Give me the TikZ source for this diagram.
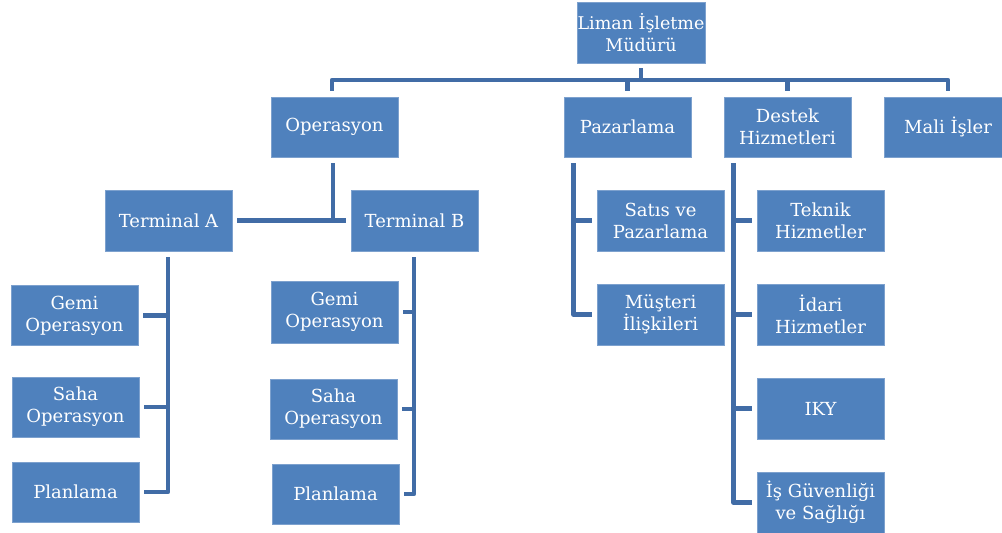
\documentclass[tikz,border=0pt]{standalone}
\usepackage{fontspec}
\setmainfont{DejaVu Serif}
\usetikzlibrary{calc}
\definecolor{boxfill}{HTML}{4F81BD}
\definecolor{boxline}{HTML}{7DA1CE}
\definecolor{connc}{HTML}{416CA6}
\tikzset{
  orgbox/.style={draw=boxline, line width=0.8pt, fill=boxfill, text=white,
    minimum width=127pt, minimum height=60pt, inner sep=0pt, align=center,
    font=\fontsize{18}{22}\selectfont},
  conn/.style={draw=connc, line width=4.5pt, line join=round}
}
\begin{document}
\begin{tikzpicture}[x=1pt,y=-1pt]
\useasboundingbox (0,0) rectangle (1002,533);
% boxes
\node[orgbox, minimum width=128pt, minimum height=61pt, font=\fontsize{17.5}{22}\selectfont] (liman) at (641,32.5) {Liman İşletme\\Müdürü};
\node[orgbox] (oper) at (334.5,127) {Operasyon};
\node[orgbox] (pazar) at (627.5,127) {Pazarlama};
\node[orgbox] (destek) at (787.5,127) {Destek\\Hizmetleri};
\node[orgbox] (mali) at (948,127) {Mali İşler};
\node[orgbox, minimum height=61pt] (termA) at (168.5,220.5) {Terminal A};
\node[orgbox, minimum height=61pt] (termB) at (414.5,220.5) {Terminal B};
\node[orgbox] (gemiA) at (74.5,315.5) {Gemi\\Operasyon};
\node[orgbox] (sahaA) at (75.5,407) {Saha\\Operasyon};
\node[orgbox] (planA) at (75.5,492) {Planlama};
\node[orgbox, minimum height=62pt] (gemiB) at (334.5,312) {Gemi\\Operasyon};
\node[orgbox] (sahaB) at (333.5,409) {Saha\\Operasyon};
\node[orgbox] (planB) at (335.5,494) {Planlama};
\node[orgbox, minimum height=61pt] (satis) at (660.5,220.5) {Satıs ve\\Pazarlama};
\node[orgbox, minimum height=61pt] (musteri) at (660.5,314.5) {Müşteri\\İlişkileri};
\node[orgbox, minimum height=61pt] (teknik) at (820.5,220.5) {Teknik\\Hizmetler};
\node[orgbox, minimum height=61pt] (idari) at (820.5,314.5) {İdari\\Hizmetler};
\node[orgbox, minimum height=61pt] (iky) at (820.5,408.5) {IKY};
\node[orgbox, minimum height=61pt] (isg) at (820.5,502.5) {İş Güvenliği\\ve Sağlığı};
% top bus
\coordinate (bus) at (641,80);
\draw[conn] ([yshift=-5pt]liman.south) -- (liman.south |- bus);
\draw[conn] ([xshift=-2.5pt,yshift=6pt]oper.north) |- (bus) -| ([yshift=6pt]mali.north);
\draw[conn] ([yshift=6pt]pazar.north) -- (pazar.north |- bus);
\draw[conn] ([yshift=6pt]destek.north) -- (destek.north |- bus);
% operasyon
\coordinate (op) at ([xshift=-1.5pt,yshift=-6pt]oper.south);
\draw[conn] (op) -- (op |- termA.east);
\draw[conn] ([xshift=5pt]termA.east) -- ([xshift=-5pt]termB.west);
% terminal A
\coordinate (ta) at ([xshift=-0.5pt,yshift=-6pt]termA.south);
\draw[conn] (ta) |- ([xshift=5pt]planA.east);
\draw[conn] ([xshift=5pt]gemiA.east) -- (ta |- gemiA.east);
\draw[conn] ([xshift=5pt]sahaA.east) -- (ta |- sahaA.east);
% terminal B
\coordinate (tb) at ([xshift=-0.5pt,yshift=-6pt]termB.south);
\draw[conn] (tb) |- ([xshift=5pt]planB.east);
\draw[conn] ([xshift=5pt]gemiB.east) -- (tb |- gemiB.east);
\draw[conn] ([xshift=5pt]sahaB.east) -- (tb |- sahaB.east);
% pazarlama
\coordinate (pz) at ([xshift=10pt,yshift=-6pt]pazar.south west);
\draw[conn] (pz) |- ([xshift=-5pt]musteri.west);
\draw[conn] ([xshift=-5pt]satis.west) -- (pz |- satis.west);
% destek
\coordinate (dh) at ([xshift=10pt,yshift=-6pt]destek.south west);
\draw[conn] (dh) |- ([xshift=-5pt]isg.west);
\draw[conn] ([xshift=-5pt]teknik.west) -- (dh |- teknik.west);
\draw[conn] ([xshift=-5pt]idari.west) -- (dh |- idari.west);
\draw[conn] ([xshift=-5pt]iky.west) -- (dh |- iky.west);
\end{tikzpicture}
\end{document}
